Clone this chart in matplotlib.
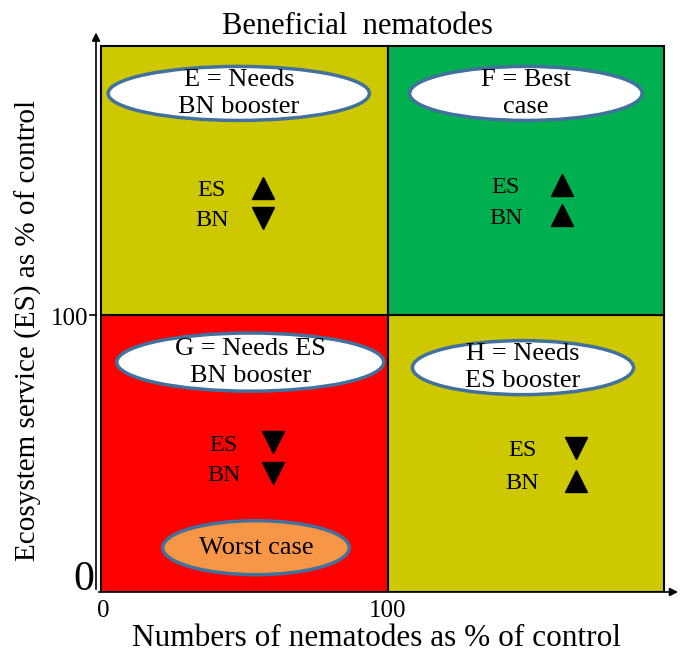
import matplotlib.pyplot as plt
from matplotlib.patches import Rectangle, Ellipse

plt.rcParams['font.family'] = ['Liberation Serif', 'DejaVu Serif']

# quadrant data (x, y, width, height in % of control)
quad_names = ['G', 'H', 'E', 'F']
quad_x = [0, 100, 0, 100]
quad_y = [0, 0, 100, 100]
quad_w = [100, 96, 100, 96]
quad_h = [100, 100, 97, 97]
quad_colors = ['#ff0000', '#cdc800', '#cdc800', '#00b050']

# labels in ellipses: text, centre x, centre y, width, height
bubble_text = ['E = Needs\nBN booster', 'F = Best\ncase',
               'G = Needs ES\nBN booster', 'H = Needs\nES booster', 'Worst case']
bubble_x = [48, 148, 52, 147, 54]
bubble_y = [180, 180, 83, 81, 16]
bubble_w = [91, 81, 93, 77, 65]
bubble_h = [19.5, 19.5, 21, 19.5, 19.5]
bubble_fill = ['white', 'white', 'white', 'white', '#f79646']

# ES / BN arrows per quadrant: text x, arrow x, ES y, BN y, ES dir, BN dir
ind_text_x = [38.6, 141, 42.8, 146.7]
ind_arrow_x = [56.4, 160.6, 60, 165.5]
ind_es_y = [145, 146, 53, 51]
ind_bn_y = [134, 135, 42, 39]
ind_es_dir = ['^', '^', 'v', 'v']
ind_bn_dir = ['v', '^', 'v', '^']

fig = plt.figure(figsize=(6.8, 6.58), dpi=100)
ax = fig.add_axes([96 / 680, 1 - 592 / 658, 580 / 680, 562 / 658])
ax.set_xlim(-1.74, 200.3)
ax.set_ylim(0, 202.9)

for x, y, w, h, c in zip(quad_x, quad_y, quad_w, quad_h, quad_colors):
    ax.add_patch(Rectangle((x, y), w, h, facecolor=c, edgecolor='black', lw=1.5, zorder=1))

for t, x, y, w, h, fc in zip(bubble_text, bubble_x, bubble_y, bubble_w, bubble_h, bubble_fill):
    ax.add_patch(Ellipse((x, y), w, h, facecolor=fc, edgecolor='#41719c', lw=2.5, zorder=2))
    ax.text(x, y, t, ha='center', va='center', fontsize=19, linespacing=1.3, zorder=3)

for tx, axx, ey, by, ed, bd in zip(ind_text_x, ind_arrow_x, ind_es_y, ind_bn_y, ind_es_dir, ind_bn_dir):
    ax.text(tx, ey, 'ES', ha='center', va='center', fontsize=17.5)
    ax.text(tx, by, 'BN', ha='center', va='center', fontsize=17.5)
    ax.plot([axx], [ey + 1], marker=ed, color='black', markersize=16, zorder=3)
    ax.plot([axx], [by + 1], marker=bd, color='black', markersize=16, zorder=3)

# axes styling
for s in ['top', 'right', 'left', 'bottom']:
    ax.spines[s].set_visible(False)
ax.annotate('', xy=(-1.74, 203), xytext=(-1.74, 0), xycoords='data',
            arrowprops=dict(arrowstyle='-|>', color='black', lw=1.2, mutation_scale=12),
            annotation_clip=False)
ax.annotate('', xy=(202, 0), xytext=(-1.74, 0), xycoords='data',
            arrowprops=dict(arrowstyle='-|>', color='black', lw=1.2, mutation_scale=12),
            annotation_clip=False)
ax.plot([-4, -1.74], [100, 100], color='black', lw=1.2, clip_on=False)

ax.set_xticks([])
ax.set_yticks([])
ax.text(0.7, -3, '0', ha='center', va='top', fontsize=18)
ax.text(100, -3, '100', ha='center', va='top', fontsize=18)
ax.text(-4.5, 98.5, '100', ha='right', va='center', fontsize=18)
ax.text(-2.5, -2.5, '0', ha='right', va='bottom', fontsize=30)

fig.text(357 / 680, 1 - 26 / 658, 'Beneficial  nematodes', ha='center', va='center', fontsize=22)
fig.text(376 / 680, 1 - 638 / 658, 'Numbers of nematodes as % of control', ha='center', va='center', fontsize=22.5)
fig.text(28 / 680, 1 - 330 / 658, 'Ecosystem service (ES) as % of control', ha='center', va='center',
         rotation=90, fontsize=21)

fig.savefig('out.png', dpi=100)
